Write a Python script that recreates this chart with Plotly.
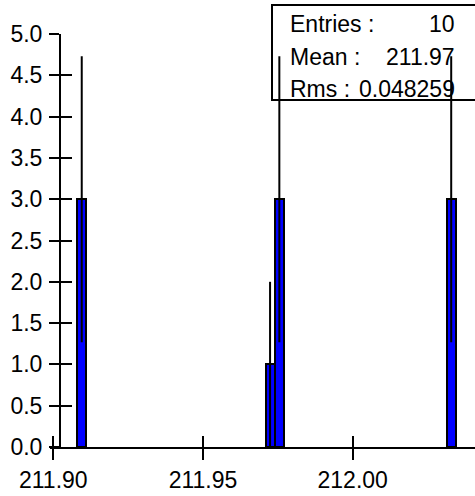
import plotly.graph_objects as go
import numpy as np

# ---- data ----
bin_centers = [211.9095, 211.9724, 211.9755, 212.0329]
bin_counts = [3, 1, 3, 3]
bin_width = 0.0030
count_errors = list(np.sqrt(bin_counts))

x_tick_vals = [211.90, 211.95, 212.00]
x_tick_text = ["211.90", "211.95", "212.00"]
y_tick_vals = [0.0, 0.5, 1.0, 1.5, 2.0, 2.5, 3.0, 3.5, 4.0, 4.5, 5.0]
y_tick_text = ["0.0", "0.5", "1.0", "1.5", "2.0", "2.5", "3.0", "3.5", "4.0", "4.5", "5.0"]

stats_labels = ["Entries :", "Mean :", "Rms :"]
stats_values = ["10", "211.97", "0.048259"]

# ---- layout geometry (pixels) ----
W, H = 475, 496
L, R, T, B = 50, 0, 34, 49
plot_w = W - L - R
plot_h = H - T - B
x_range = [211.8989, 212.04085]
y_range = [0, 5.0]
yaxis_pos = (60 - L) / plot_w


def px_x(p):
    return (p - L) / plot_w


def px_y(p):
    return (H - B - p) / plot_h


FONT = "Liberation Sans, Arial, Helvetica, sans-serif"

fig = go.Figure()
fig.add_trace(go.Bar(
    x=bin_centers, y=bin_counts, width=[bin_width] * len(bin_counts),
    marker=dict(color="#0000ff", line=dict(color="black", width=2)),
    error_y=dict(type="data", array=count_errors, visible=True,
                 color="black", thickness=2, width=0),
    showlegend=False, hoverinfo="x+y",
))
# invisible trace that carries the overlay axes (inner halves of tick marks)
fig.add_trace(go.Scatter(x=[bin_centers[0]], y=[0], xaxis="x2", yaxis="y2",
                         mode="markers", marker=dict(opacity=0),
                         showlegend=False, hoverinfo="skip"))

axis_font = dict(family=FONT, size=23, color="black")

fig.update_layout(
    width=W, height=H,
    margin=dict(l=L, r=R, t=T, b=B, autoexpand=False),
    paper_bgcolor="white", plot_bgcolor="white",
    bargap=0,
    xaxis=dict(range=x_range, tickvals=x_tick_vals, ticktext=x_tick_text,
               ticks="outside", ticklen=11, tickwidth=2, tickcolor="black",
               showline=True, linecolor="black", linewidth=2,
               showgrid=False, zeroline=False, tickfont=axis_font,
               anchor="y", automargin=False),
    yaxis=dict(range=y_range, tickvals=y_tick_vals, ticktext=y_tick_text,
               ticks="outside", ticklen=10, tickwidth=2, tickcolor="black",
               showline=True, linecolor="black", linewidth=2,
               showgrid=False, zeroline=False, tickfont=axis_font,
               anchor="free", position=yaxis_pos, ticklabelstandoff=2,
               automargin=False),
    xaxis2=dict(range=x_range, tickvals=x_tick_vals, overlaying="x",
                ticks="inside", ticklen=11, tickwidth=2, tickcolor="black",
                showticklabels=False, showline=False, showgrid=False,
                zeroline=False, anchor="y2", side="bottom", automargin=False),
    yaxis2=dict(range=y_range, tickvals=y_tick_vals, overlaying="y",
                ticks="inside", ticklen=11, tickwidth=2, tickcolor="black",
                showticklabels=False, showline=False, showgrid=False,
                zeroline=False, anchor="free", position=yaxis_pos,
                side="left", automargin=False),
)

# stats box
fig.add_shape(type="rect", xref="paper", yref="paper",
              x0=px_x(272), x1=px_x(480), y0=px_y(100), y1=px_y(5),
              line=dict(color="black", width=2), fillcolor="rgba(0,0,0,0)",
              layer="below")

row_y = [24, 57, 89]
stat_font = dict(family=FONT, size=23, color="black")
for lab, val, yy in zip(stats_labels, stats_values, row_y):
    fig.add_annotation(x=px_x(288), y=px_y(yy), xref="paper", yref="paper",
                       text=lab, showarrow=False, xanchor="left",
                       yanchor="middle", font=stat_font)
    fig.add_annotation(x=px_x(457), y=px_y(yy), xref="paper", yref="paper",
                       text=val, showarrow=False, xanchor="right",
                       yanchor="middle", font=stat_font)

fig.write_html("out.html", config={"displayModeBar": False},
               post_script="document.body.style.margin='0';"
                           "document.body.style.padding='0';")
